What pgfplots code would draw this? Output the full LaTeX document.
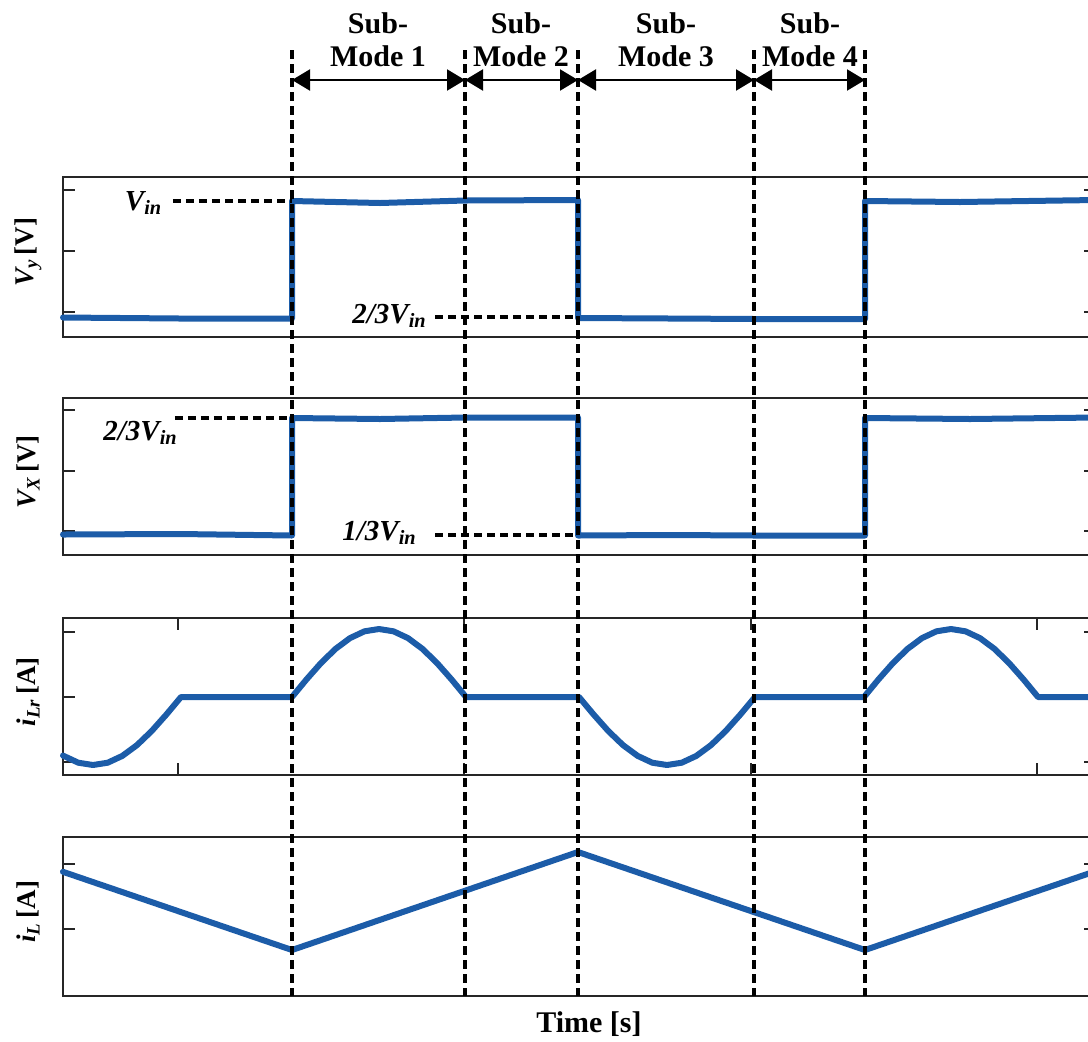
\documentclass[border=0pt]{standalone}
\usepackage{fontspec}
\setmainfont{Liberation Serif}
\usepackage{pgfplots}
\pgfplotsset{compat=1.18}
\usetikzlibrary{arrows.meta}
\definecolor{lineblue}{RGB}{28,92,168}
\newcommand{\lab}[3]{{\bfseries\itshape #1}\textsubscript{\bfseries\itshape #2}\,{\bfseries #3}}
\tikzset{
 vdash/.style={black, line width=1.8pt, dash pattern=on 4.5pt off 2.5pt},
 hdash/.style={black, line width=1.7pt, dash pattern=on 4pt off 2.5pt},
 ann/.style={font=\fontsize{14.5}{16}\selectfont},
 dblarr/.style={line width=1.1pt, {Triangle[length=9pt,width=10.5pt]}-{Triangle[length=9pt,width=10.5pt]}},
 sml/.style={font=\fontsize{15}{16.5}\selectfont\bfseries, align=center},
}
\begin{document}
\begin{tikzpicture}
\path[use as bounding box] (0,0) rectangle (544pt,-520.5pt);
\pgfplotsset{
 panel/.style={scale only axis, width=516.5pt, xmin=63, xmax=1096, ymin=0,
   anchor=south west, xtick=\empty, tick align=inside, ytick pos=both,
   major tick length=6pt, axis line style={black!85, line width=0.8pt},
   every tick/.style={black!85, line width=0.8pt}, yticklabels={}, xticklabels={},
   clip=false,
   ylabel style={at={(rel axis cs:-0.0339,0.53)}, anchor=center, font=\fontsize{13.5}{15}\selectfont}},
 sig/.style={lineblue, line width=3pt, line join=round, line cap=round},
}
% Panel 1: V_y
\begin{axis}[panel, at={(31.5pt,-168.5pt)}, height=80pt, ymax=160, ytick={25,86,147},
  ylabel={\lab{V}{y}{[V]}}]
\addplot[sig] coordinates {(63,19.5) (180,18.5) (292,18.5) (292,136) (380,134) (465,136.5) (578,137) (578,19) (670,18.5) (755,18) (865,18) (865,136) (960,135) (1096,137)};
\end{axis}
% Panel 2: V_X
\begin{axis}[panel, at={(31.5pt,-277.5pt)}, height=78.5pt, ymax=157, ytick={24,84,145},
  ylabel={\lab{V}{X}{[V]}}]
\addplot[sig] coordinates {(63,20.5) (180,21) (292,19.5) (292,137) (380,136) (465,137.5) (578,137.5) (578,19.5) (670,20) (755,19.5) (865,19.5) (865,137) (970,136) (1096,137.5)};
\end{axis}
% Panel 3: i_Lr
\begin{axis}[panel, at={(31.5pt,-387.5pt)}, height=78.5pt, ymax=157, ytick={13,78,143},
  xtick={178,464,751,1037}, xtick pos=both,
  ylabel={\lab{i}{Lr}{[A]}}]
\addplot[sig] coordinates {
(63,19.5) (63.67,19.1) (78.3,12.3) (93,10) (107.7,12.3) (122.3,19.1) (137,29.9) (151.7,44) (166.3,60.4) (181,78)
(292,78) (306.5,95.6) (321,112) (335.5,126.1) (350,136.9) (364.5,143.7) (379,146) (393.5,143.7) (408,136.9) (422.5,126.1) (437,112) (451.5,95.6) (466,78)
(579,78) (593.7,60.4) (608.3,44) (623,29.9) (637.7,19.1) (652.3,12.3) (667,10) (681.7,12.3) (696.3,19.1) (711,29.9) (725.7,44) (740.3,60.4) (755,78)
(864,78) (878.5,95.6) (893,112) (907.5,126.1) (922,136.9) (936.5,143.7) (951,146) (965.5,143.7) (980,136.9) (994.5,126.1) (1009,112) (1023.5,95.6) (1038,78)
(1096,78)};
\end{axis}
% Panel 4: i_L with overlays
\begin{axis}[panel, at={(31.5pt,-498pt)}, height=79.5pt, ymax=159, ytick={67,132},
  ylabel={\lab{i}{L}{[A]}}]
\addplot[sig] coordinates {(63,124.2) (292,46) (578,144) (865,46) (1096,125)};
% vertical dashed boundaries
\pgfplotsinvokeforeach{292,465,578,754,865}{
  \draw[vdash] (axis cs:#1,946) -- (axis cs:#1,0);
}
% arrows
\draw[dblarr] (axis cs:292,916) -- (axis cs:465,916);
\draw[dblarr] (axis cs:465,916) -- (axis cs:578,916);
\draw[dblarr] (axis cs:578,916) -- (axis cs:754,916);
\draw[dblarr] (axis cs:754,916) -- (axis cs:865,916);
% sub-mode labels
\node[sml] at (axis cs:378,956.5) {Sub-\\Mode 1};
\node[sml] at (axis cs:521,956.5) {Sub-\\Mode 2};
\node[sml] at (axis cs:666,956.5) {Sub-\\Mode 3};
\node[sml] at (axis cs:810,956.5) {Sub-\\Mode 4};
% level annotations
\draw[hdash] (axis cs:173,795) -- (axis cs:292,795);
\node[ann] at (axis cs:146,793) {\lab{V}{in}{}};
\draw[hdash] (axis cs:435,679) -- (axis cs:578,679);
\node[ann] at (axis cs:392,680) {\lab{2/3V}{in}{}};
\draw[hdash] (axis cs:175,578) -- (axis cs:292,578);
\node[ann] at (axis cs:143,563) {\lab{2/3V}{in}{}};
\draw[hdash] (axis cs:435,461) -- (axis cs:578,461);
\node[ann] at (axis cs:382,463) {\lab{1/3V}{in}{}};
% x label
\node[font=\fontsize{15}{17}\selectfont\bfseries] at (axis cs:589,-28) {Time [s]};
\end{axis}
\end{tikzpicture}
\end{document}
